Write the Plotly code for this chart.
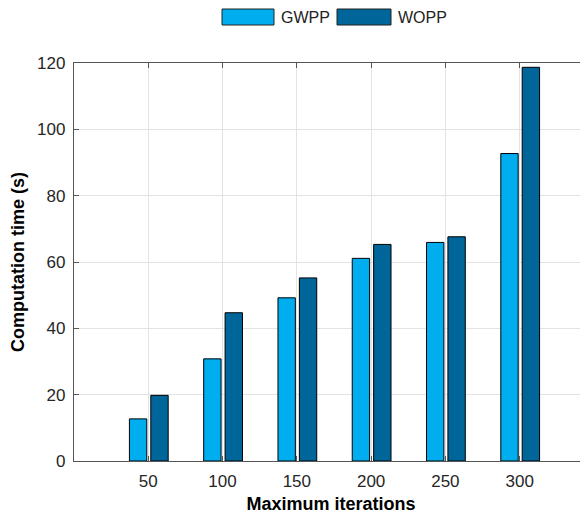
import plotly.graph_objects as go

iterations = [50, 100, 150, 200, 250, 300]
gwpp = [12.7, 30.8, 49.2, 61.1, 65.9, 92.7]
wopp = [19.8, 44.7, 55.2, 65.3, 67.6, 118.7]
series_names = ["GWPP", "WOPP"]
series_colors = ["#00adef", "#006599"]
y_ticks = [0, 20, 40, 60, 80, 100, 120]

# page has an 8px body margin; figure sized/positioned to compensate
OFF = 8
W, H = 588 - OFF, 514 - OFF
L, R, T, B = 74 - OFF, 0, 63 - OFF, 514 - 461
font_family = "Liberation Sans, Arial, Helvetica, sans-serif"

fig = go.Figure()
fig.add_trace(go.Bar(x=iterations, y=gwpp, name=series_names[0], width=11.7, offset=-12.7,
                     marker=dict(color=series_colors[0], line=dict(color="#000000", width=1))))
fig.add_trace(go.Bar(x=iterations, y=wopp, name=series_names[1], width=11.7, offset=1.7,
                     marker=dict(color=series_colors[1], line=dict(color="#000000", width=1))))

pw = W - L - R
ph = H - T - B

def px(x):
    return (x - OFF - L) / pw

def py(y):
    return (H - B - (y - OFF)) / ph

# custom legend (swatches + labels), in page pixels
legend_items = [(222, 274, 279), (337, 391, 396)]
for (x0, x1, tx), name, col in zip(legend_items, series_names, series_colors):
    fig.add_shape(type="rect", xref="paper", yref="paper", x0=px(x0), x1=px(x1),
                  y0=py(25), y1=py(9), fillcolor=col, line=dict(color="#222222", width=1))
    fig.add_annotation(xref="paper", yref="paper", x=px(tx), y=py(17), text=name,
                       showarrow=False, xanchor="left", yanchor="middle",
                       font=dict(size=16, color="#222222", family=font_family))

fig.update_layout(
    width=W, height=H,
    margin=dict(l=L, r=R, t=T, b=B),
    paper_bgcolor="white", plot_bgcolor="white",
    barmode="overlay",
    showlegend=False,
    font=dict(family=font_family, color="#262626"),
)
fig.update_xaxes(
    range=[0, 346], tickvals=iterations, ticktext=[str(v) for v in iterations],
    showgrid=True, gridcolor="#e3e3e3", gridwidth=1,
    showline=True, linecolor="#555555", linewidth=1.3, mirror="ticks",
    ticks="inside", ticklen=5, tickcolor="#555555",
    tickfont=dict(size=17, color="#262626"),
    ticklabelstandoff=4,
    zeroline=False,
    title=dict(text="<b>Maximum iterations</b>", font=dict(size=18, color="#000000"), standoff=9),
)
fig.update_yaxes(
    range=[0, 120], tickvals=y_ticks,
    showgrid=True, gridcolor="#e3e3e3", gridwidth=1,
    showline=True, linecolor="#555555", linewidth=1.3, mirror=False,
    ticks="inside", ticklen=5, tickcolor="#555555",
    tickfont=dict(size=17, color="#262626"),
    ticklabelstandoff=4,
    zeroline=False,
    title=dict(text="<b>Computation time (s)</b>", font=dict(size=18, color="#000000"), standoff=7),
)

fig.write_html("out.html")
